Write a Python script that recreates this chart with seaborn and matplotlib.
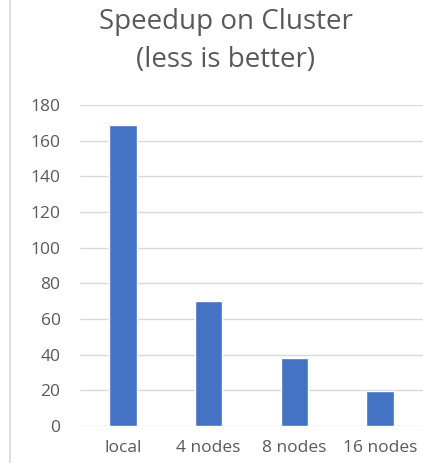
import pandas as pd
import matplotlib.pyplot as plt
import seaborn as sns
from matplotlib.lines import Line2D

categories = ['local', '4 nodes', '8 nodes', '16 nodes']
times = [169, 70, 38, 19.5]

df = pd.DataFrame({'Setup': categories, 'Time': times})

sns.set_style('white')
plt.rcParams['font.family'] = ['Open Sans', 'DejaVu Sans']

fig = plt.figure(figsize=(4.23, 4.63), dpi=100)
ax = fig.add_axes([80 / 423, 1 - 426 / 463, 1 - 80 / 423, (426 - 105) / 463])

sns.barplot(x='Setup', y='Time', data=df, color='#4472C4', width=0.32,
            saturation=1, ax=ax, zorder=3)

ax.set_ylim(0, 180)
ax.set_yticks(range(0, 181, 20))
ax.set_xlim(-0.5, 3.5)
ax.yaxis.grid(True, color='#D9D9D9', linewidth=1, zorder=0)
ax.set_axisbelow(True)
for s in ax.spines.values():
    s.set_visible(False)
ax.tick_params(axis='both', length=0, labelsize=12.5, colors='#595959')
ax.tick_params(axis='x', pad=10)
ax.tick_params(axis='y', pad=14)
ax.set_xlabel('')
ax.set_ylabel('')

# two-line title, baselines placed like the reference
fig.text(226 / 423, 1 - 29 / 463, 'Speedup on Cluster', ha='center', va='baseline',
         fontsize=20, color='#595959')
fig.text(226 / 423, 1 - 67 / 463, '(less is better)', ha='center', va='baseline',
         fontsize=20, color='#595959')

# left border of the chart area
fig.add_artist(Line2D([10 / 423, 10 / 423], [0, 1], color='#D9D9D9', linewidth=1.2))

fig.savefig('out.png', dpi=100)
